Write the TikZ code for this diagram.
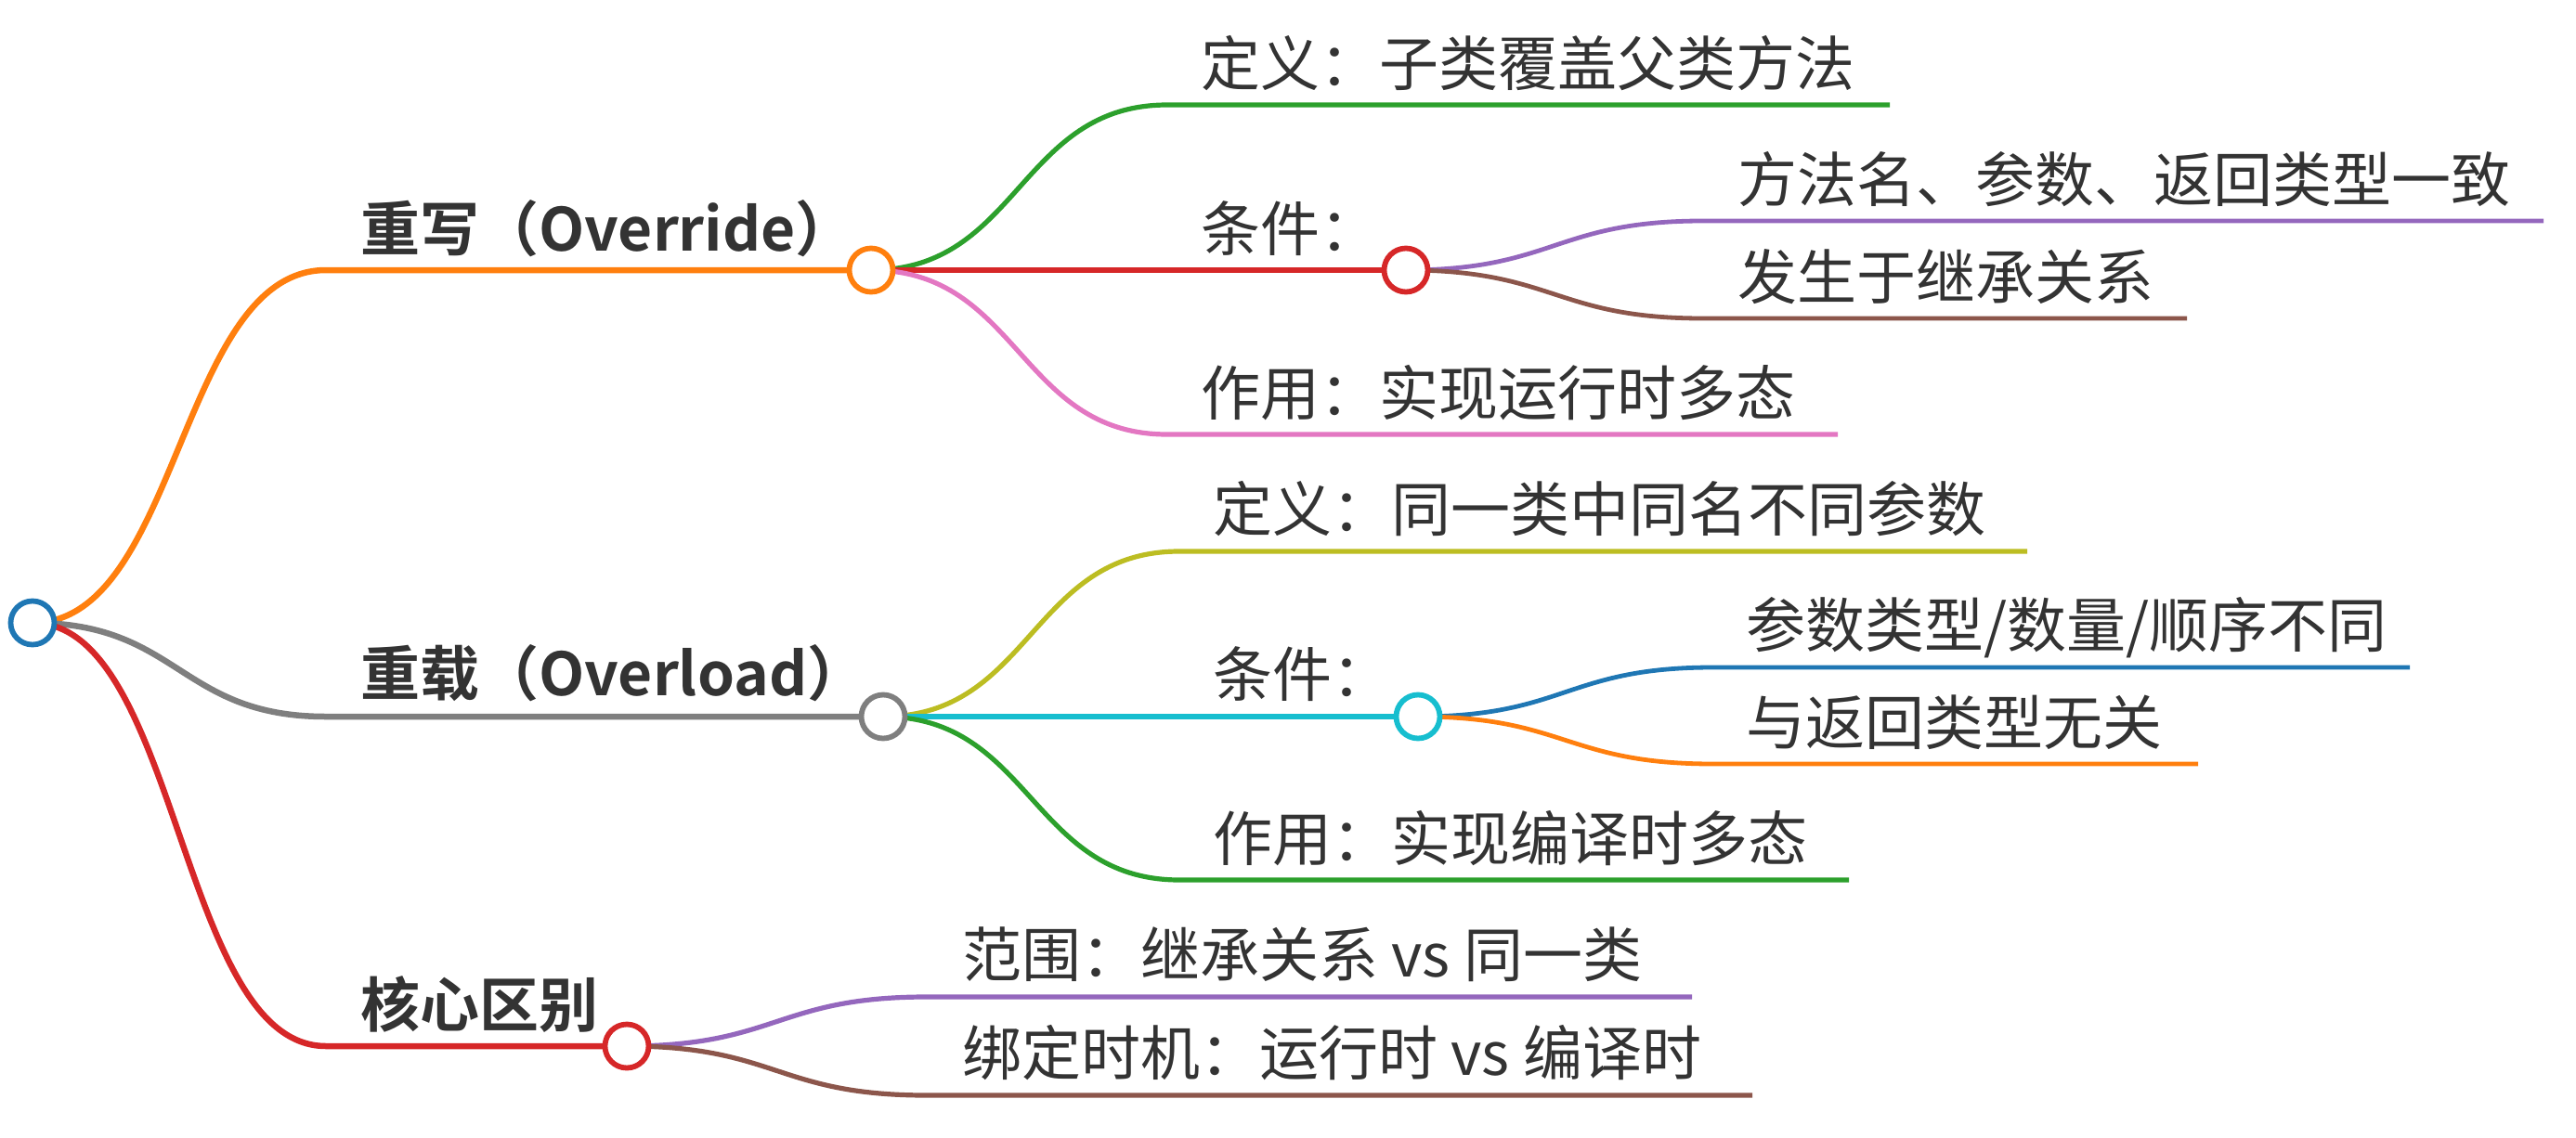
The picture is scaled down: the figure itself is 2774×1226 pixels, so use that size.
\documentclass[tikz,border=0pt]{standalone}
\usepackage{fontspec}
\setmainfont{Noto Sans CJK SC}[BoldFont={* Bold}]
\usetikzlibrary{calc}
\pgfdeclarelayer{bg}
\pgfsetlayers{bg,main}
\definecolor{cBlue}{HTML}{1F77B4}
\definecolor{cOrange}{HTML}{FF7F0E}
\definecolor{cGreen}{HTML}{2CA02C}
\definecolor{cRed}{HTML}{D62728}
\definecolor{cPurple}{HTML}{9467BD}
\definecolor{cBrown}{HTML}{8C564B}
\definecolor{cPink}{HTML}{E377C2}
\definecolor{cGray}{HTML}{7F7F7F}
\definecolor{cOlive}{HTML}{BCBD22}
\definecolor{cCyan}{HTML}{17BECF}
\definecolor{txtc}{HTML}{333333}
\tikzset{
  mdot/.style={circle, draw=#1, fill=white, line width=5.8pt, minimum size=47pt, inner sep=0pt},
  lbl/.style={anchor=base west, inner sep=0pt, text=txtc, font=\fontsize{64}{76}\selectfont},
  hlbl/.style={lbl, font=\fontsize{64}{76}\selectfont\bfseries},
  lk/.style={draw=#1, line cap=butt},
}
\newcommand\mlink[5]{%
  \draw[lk=#1, line width=#2] let \p1=(#3), \p2=(#4) in
    (\p1) .. controls ({0.5*\x1+0.5*\x2},\y1) and ({0.5*\x1+0.5*\x2},\y2) .. (\p2) -- (#5);}
\begin{document}
\begin{tikzpicture}[x=1pt,y=-1pt]
\useasboundingbox (0,0) rectangle (2774,1226);
% circles
\node[mdot=cBlue] (R) at (35,671) {};
\node[mdot=cOrange] (A) at (938,291) {};
\node[mdot=cGray] (B) at (951,772) {};
\node[mdot=cRed] (C) at (675,1127) {};
\node[mdot=cRed] (A2) at (1514,291) {};
\node[mdot=cCyan] (B2) at (1527,772) {};
% line starts and leaf ends
\coordinate (a0) at (351,291);
\coordinate (b0) at (351,772);
\coordinate (c0) at (351,1127);
\coordinate (a1s) at (1257,113);  \coordinate (a1e) at (2035,113);
\coordinate (a2s) at (1257,291);
\coordinate (a21s) at (1834,238); \coordinate (a21e) at (2739,238);
\coordinate (a22s) at (1834,343); \coordinate (a22e) at (2355,343);
\coordinate (a3s) at (1257,468);  \coordinate (a3e) at (1979,468);
\coordinate (b1s) at (1270,594);  \coordinate (b1e) at (2183,594);
\coordinate (b2s) at (1270,772);
\coordinate (b21s) at (1845,719); \coordinate (b21e) at (2595,719);
\coordinate (b22s) at (1845,823); \coordinate (b22e) at (2367,823);
\coordinate (b3s) at (1270,948);  \coordinate (b3e) at (1991,948);
\coordinate (c1s) at (998,1074);  \coordinate (c1e) at (1822,1074);
\coordinate (c2s) at (998,1180);  \coordinate (c2e) at (1887,1180);
% connectors
\begin{pgfonlayer}{bg}
\mlink{cOrange}{6.5pt}{R.center}{a0}{A.center}
\mlink{cGray}{6.5pt}{R.center}{b0}{B.center}
\mlink{cRed}{6.5pt}{R.center}{c0}{C.center}
\mlink{cGreen}{5.2pt}{A.center}{a1s}{a1e}
\mlink{cRed}{5.2pt}{A.center}{a2s}{A2.center}
\mlink{cPink}{5.2pt}{A.center}{a3s}{a3e}
\mlink{cPurple}{4.8pt}{A2.center}{a21s}{a21e}
\mlink{cBrown}{4.8pt}{A2.center}{a22s}{a22e}
\mlink{cOlive}{5.2pt}{B.center}{b1s}{b1e}
\mlink{cCyan}{5.2pt}{B.center}{b2s}{B2.center}
\mlink{cGreen}{5.2pt}{B.center}{b3s}{b3e}
\mlink{cBlue}{4.8pt}{B2.center}{b21s}{b21e}
\mlink{cOrange}{4.8pt}{B2.center}{b22s}{b22e}
\mlink{cPurple}{5.2pt}{C.center}{c1s}{c1e}
\mlink{cBrown}{5.2pt}{C.center}{c2s}{c2e}
\end{pgfonlayer}
% labels
\node[hlbl] (tA) at (388,270) {重写（Override）};
\node[hlbl] (tB) at (388,749) {重载（Overload）};
\node[hlbl] (tC) at (388,1106) {核心区别};
\node[lbl] (tA1) at (1293,92) {定义：子类覆盖父类方法};
\node[lbl] (tA2) at (1293,270) {条件：};
\node[lbl] (tA3) at (1293,447) {作用：实现运行时多态};
\node[lbl] (tA21) at (1871,217) {方法名、参数、返回类型一致};
\node[lbl] (tA22) at (1871,322) {发生于继承关系};
\node[lbl] (tB1) at (1306,572) {定义：同一类中同名不同参数};
\node[lbl] (tB2) at (1306,750) {条件：};
\node[lbl] (tB3) at (1306,927) {作用：实现编译时多态};
\node[lbl] (tB21) at (1880,697) {参数类型/数量/顺序不同};
\node[lbl] (tB22) at (1880,802) {与返回类型无关};
\node[lbl] (tC1) at (1036,1052) {范围：继承关系 vs 同一类};
\node[lbl] (tC2) at (1036,1158) {绑定时机：运行时 vs 编译时};
\end{tikzpicture}
\end{document}
